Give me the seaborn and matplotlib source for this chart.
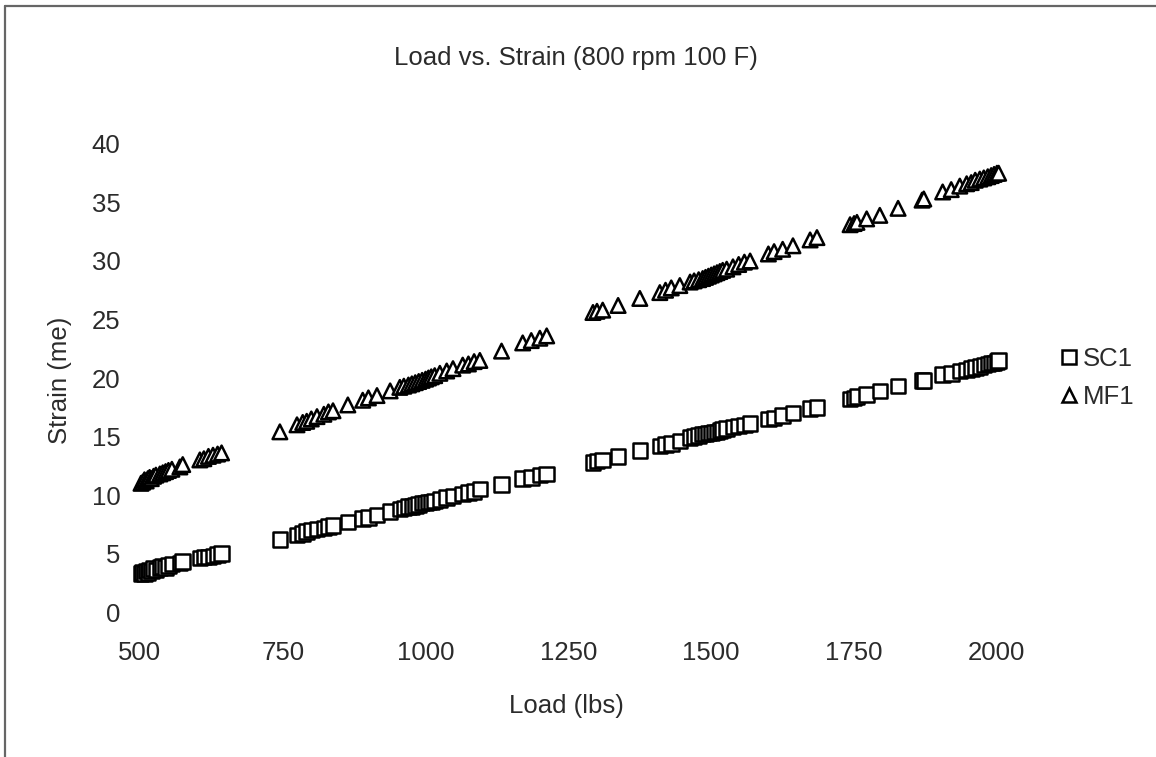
import pandas as pd
import seaborn as sns
import matplotlib.pyplot as plt
from matplotlib.lines import Line2D

# values (load in lbs, strain in me)
load = [
    502, 505, 508, 511, 514, 517, 520, 524, 528,
    535, 540, 545, 550, 556, 570, 575,
    605, 612, 620, 628, 636, 643,
    745, 775, 785, 792, 800, 810, 822, 830, 838, 864, 890, 900, 915, 938,
    955, 962, 970, 976, 982, 988, 994, 1000, 1005, 1010, 1016, 1025, 1037,
    1048, 1065, 1075, 1085, 1095,
    1133, 1170, 1185, 1200, 1212,
    1293, 1300, 1310, 1337, 1375, 1410, 1420, 1430, 1445, 1463, 1470, 1478,
    1485, 1490, 1495, 1500, 1505, 1510, 1515, 1520, 1527, 1538, 1548, 1558, 1568,
    1600, 1610, 1625, 1643, 1673, 1685,
    1743, 1750, 1755, 1772, 1795, 1827, 1869, 1872, 1905, 1920, 1935, 1947,
    1955, 1962, 1970, 1977, 1984, 1990, 1995, 2000, 2003,
]
sc1 = [
    3.3, 3.4, 3.3, 3.5, 3.4, 3.6, 3.5, 3.7, 3.6,
    3.8, 3.9, 3.8, 4.0, 4.1, 4.2, 4.3,
    4.6, 4.7, 4.7, 4.8, 4.9, 5.0,
    6.2, 6.6, 6.7, 6.9, 7.0, 7.1, 7.2, 7.3, 7.4, 7.7, 8.0, 8.1, 8.3, 8.6,
    8.8, 8.9, 9.0, 9.0, 9.1, 9.2, 9.3, 9.3, 9.4, 9.4, 9.5, 9.6, 9.8,
    9.9, 10.1, 10.2, 10.3, 10.5,
    10.9, 11.4, 11.5, 11.7, 11.8,
    12.8, 12.9, 13.0, 13.3, 13.8, 14.2, 14.3, 14.4, 14.6, 14.9, 15.0, 15.1,
    15.2, 15.2, 15.3, 15.3, 15.4, 15.4, 15.5, 15.6, 15.7, 15.8, 15.9, 16.0, 16.1,
    16.5, 16.6, 16.8, 17.0, 17.4, 17.5,
    18.2, 18.3, 18.4, 18.6, 18.9, 19.3, 19.8, 19.8, 20.3, 20.4, 20.6, 20.7,
    20.8, 20.9, 21.0, 21.1, 21.2, 21.3, 21.3, 21.4, 21.5,
]
mf1 = [
    11.0, 11.1, 11.3, 11.2, 11.4, 11.5, 11.4, 11.6, 11.7,
    11.8, 11.9, 12.0, 12.1, 12.2, 12.4, 12.6,
    13.0, 13.1, 13.3, 13.4, 13.5, 13.6,
    15.4, 16.0, 16.2, 16.3, 16.5, 16.7, 16.9, 17.1, 17.2, 17.7, 18.1, 18.3, 18.5, 18.9,
    19.2, 19.3, 19.4, 19.5, 19.6, 19.7, 19.8, 19.9, 20.0, 20.1, 20.2, 20.4, 20.6,
    20.8, 21.1, 21.2, 21.4, 21.5,
    22.3, 23.0, 23.2, 23.4, 23.6,
    25.6, 25.7, 25.8, 26.2, 26.8, 27.3, 27.5, 27.7, 27.9, 28.2, 28.3, 28.4,
    28.5, 28.6, 28.7, 28.8, 28.9, 29.0, 29.1, 29.2, 29.3, 29.5, 29.7, 29.9, 30.0,
    30.6, 30.8, 31.0, 31.3, 31.8, 32.0,
    33.1, 33.2, 33.3, 33.6, 33.9, 34.5, 35.2, 35.3, 35.9, 36.1, 36.4, 36.6,
    36.7, 36.9, 37.0, 37.1, 37.2, 37.3, 37.4, 37.5, 37.5,
]
series_names = ["SC1", "MF1"]
x_ticks = [500, 750, 1000, 1250, 1500, 1750, 2000]
y_ticks = [0, 5, 10, 15, 20, 25, 30, 35, 40]

df = pd.concat([
    pd.DataFrame({"Load": load, "Strain": sc1, "Series": series_names[0]}),
    pd.DataFrame({"Load": load, "Strain": mf1, "Series": series_names[1]}),
])

sns.set_style("white")
plt.rcParams["font.family"] = ["Liberation Sans", "DejaVu Sans"]
text_color = "#2b2b2b"
fs = 18.5

fig = plt.figure(figsize=(11.56, 7.57), dpi=100)
ax = fig.add_axes([0.121, 0.1915, 0.7414, 0.6183])

sns.scatterplot(
    data=df, x="Load", y="Strain", style="Series",
    markers={"SC1": "s", "MF1": "^"}, color="white",
    edgecolor="black", linewidth=1.8, s=110, ax=ax, clip_on=False,
)

ax.set_xlim(500, 2000)
ax.set_ylim(0, 40)
ax.set_xticks(x_ticks)
ax.set_yticks(y_ticks)
ax.tick_params(axis="both", length=0, labelsize=fs, colors=text_color)
ax.tick_params(axis="x", pad=21)
ax.tick_params(axis="y", pad=14)
for spine in ax.spines.values():
    spine.set_visible(False)
ax.set_xlabel("")
ax.set_ylabel("")

fig.text(0.498, 0.923, "Load vs. Strain (800 rpm 100 F)", ha="center", va="center",
         fontsize=fs, color=text_color)
fig.text(0.49, 0.068, "Load (lbs)", ha="center", va="center",
         fontsize=fs, color=text_color)
fig.text(0.052, 0.498, "Strain (me)", ha="center", va="center", rotation=90,
         fontsize=fs, color=text_color)

handles, labels = ax.get_legend_handles_labels()
for h in handles:
    h.set_markersize(9.5)
    h.set_markeredgewidth(1.8)
ax.legend(handles, labels, loc="center left", bbox_to_anchor=(1.06, 0.5),
          frameon=False, fontsize=fs, handlelength=0.6, handletextpad=0.25,
          borderpad=0, labelspacing=0.55, labelcolor=text_color)

# chart-area frame: only the top and left edges show in the scan
fig.add_artist(Line2D([0.0045, 0.0045], [0.0, 0.992], color="#666666", lw=1.6))
fig.add_artist(Line2D([0.0045, 1.0], [0.992, 0.992], color="#666666", lw=1.6))

fig.savefig("out.png", dpi=100)
